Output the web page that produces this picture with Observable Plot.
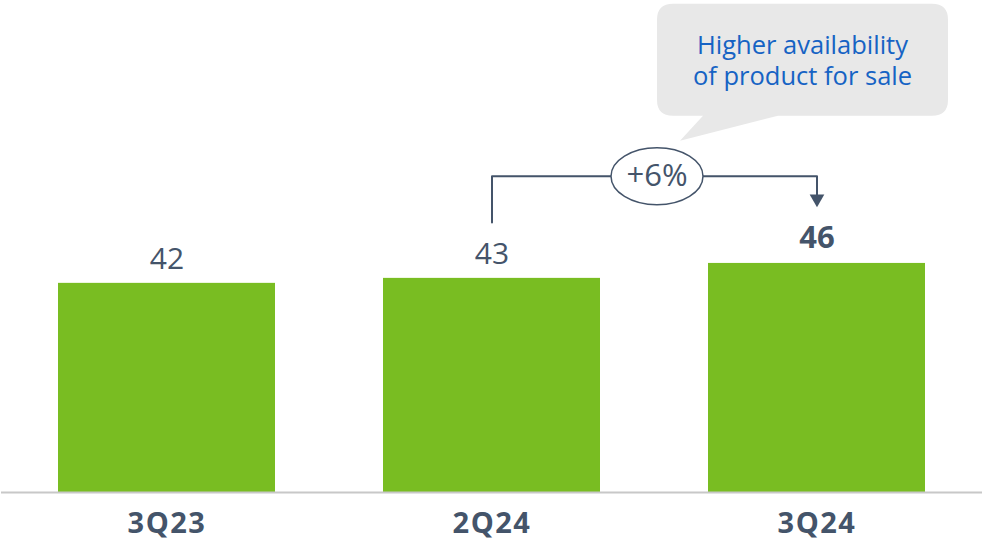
<!DOCTYPE html>
<html>
<head>
<meta charset="utf-8">
<script src="https://cdn.jsdelivr.net/npm/d3@7"></script>
<script src="https://cdn.jsdelivr.net/npm/@observablehq/plot@0.6"></script>
<style>
  html, body { margin: 0; padding: 0; background: #fff; }
  g[aria-label="x-axis tick label"] text { letter-spacing: 1.5px; }
</style>
</head>
<body>
<div id="chart"></div>
<script>
// ---- data ----
const quarters = ["3Q23", "2Q24", "3Q24"];
const values = [42, 43, 46];
const highlight = [false, false, true];

// annotation: change from 2Q24 to 3Q24
const changeFrom = "2Q24";
const changeTo = "3Q24";
const changeLabel = "+6%";
const bracketStartY = 54.2;   // top of left leg (data units)
const bracketLevel = 63.5;    // horizontal bracket level
const arrowY = 59.0;          // arrowhead position
const calloutAt = "3Q24";
const calloutY = 86.9;
const calloutLines = ["Higher availability", "of product for sale"];

const rows = quarters.map((q, i) => ({q, v: values[i], hi: highlight[i]}));
const bracket = [
  {x: changeFrom, y: bracketStartY},
  {x: changeFrom, y: bracketLevel},
  {x: changeTo, y: bracketLevel},
  {x: changeTo, y: arrowY}
];

const slate = "#44546a";
const green = "#79bd22";

// ellipse symbol (fixed pixel size)
const ellipseSymbol = {
  draw(ctx) {
    const rx = 46, ry = 28.5, k = 0.5523;
    ctx.moveTo(-rx, 0);
    ctx.bezierCurveTo(-rx, -k * ry, -k * rx, -ry, 0, -ry);
    ctx.bezierCurveTo(k * rx, -ry, rx, -k * ry, rx, 0);
    ctx.bezierCurveTo(rx, k * ry, k * rx, ry, 0, ry);
    ctx.bezierCurveTo(-k * rx, ry, -rx, k * ry, -rx, 0);
    ctx.closePath();
  }
};

// speech bubble symbol (fixed pixel size)
const bubbleSymbol = {
  draw(ctx) {
    const w = 145.5, h = 56, r = 16;
    ctx.moveTo(-w + r, -h);
    ctx.lineTo(w - r, -h);
    ctx.quadraticCurveTo(w, -h, w, -h + r);
    ctx.lineTo(w, h - r);
    ctx.quadraticCurveTo(w, h, w - r, h);
    ctx.lineTo(-24.5, h);
    ctx.lineTo(-122.5, h + 25);
    ctx.lineTo(-99.5, h);
    ctx.lineTo(-w + r, h);
    ctx.quadraticCurveTo(-w, h, -w, h - r);
    ctx.lineTo(-w, -h + r);
    ctx.quadraticCurveTo(-w, -h, -w + r, -h);
    ctx.closePath();
  }
};

const chart = Plot.plot({
  width: 982,
  height: 540,
  marginLeft: 1,
  marginRight: 0,
  marginTop: 0,
  marginBottom: 48,
  style: {fontFamily: "'Open Sans', sans-serif", background: "#fff"},
  x: {domain: quarters, paddingInner: 0.3313, paddingOuter: 0.1718, axis: null},
  y: {domain: [0, 98.8], axis: null},
  marks: [
    Plot.barY(rows, {x: "q", y: "v", fill: green}),
    Plot.ruleY([0], {stroke: "#c8c8c8", strokeWidth: 2}),
    Plot.axisX({tickSize: 0, tickPadding: 20, fontSize: 29, fontWeight: "bold", color: slate, fill: slate}),
    Plot.text(rows.filter(d => !d.hi), {x: "q", y: "v", text: d => String(d.v), lineAnchor: "bottom", dy: -14, fontSize: 30, fill: slate}),
    Plot.text(rows.filter(d => d.hi), {x: "q", y: "v", text: d => String(d.v), lineAnchor: "bottom", dy: -15, fontSize: 31, fontWeight: "bold", fill: slate}),
    Plot.line(bracket, {x: "x", y: "y", stroke: slate, strokeWidth: 2, curve: "linear"}),
    Plot.dot([{x: changeTo, y: arrowY}], {x: "x", y: "y", symbol: "triangle2", r: 7, rotate: 180, fill: slate, stroke: "none"}),
    Plot.dot([{y: bracketLevel}], {x: () => changeFrom, y: "y", dx: 165, symbol: ellipseSymbol, r: 1, fill: "#fff", stroke: slate, strokeWidth: 1.5}),
    Plot.text([changeLabel], {x: () => changeFrom, y: () => bracketLevel, dx: 165, text: d => d, fontSize: 31, lineAnchor: "middle", fill: slate}),
    Plot.dot([{x: calloutAt, y: calloutY}], {x: "x", y: "y", dx: -14.5, symbol: bubbleSymbol, r: 1, fill: "#e8e8e8", stroke: "none"}),
    Plot.text(calloutLines, {x: () => calloutAt, y: () => calloutY, dx: -14.5, dy: -14, text: d => d, fontSize: 25.5, lineAnchor: "middle", fill: "#1663c4",
      filter: (d, i) => i === 0}),
    Plot.text(calloutLines, {x: () => calloutAt, y: () => calloutY, dx: -14.5, dy: 17, text: d => d, fontSize: 25.5, lineAnchor: "middle", fill: "#1663c4",
      filter: (d, i) => i === 1})
  ]
});
document.getElementById("chart").appendChild(chart);
</script>
</body>
</html>
